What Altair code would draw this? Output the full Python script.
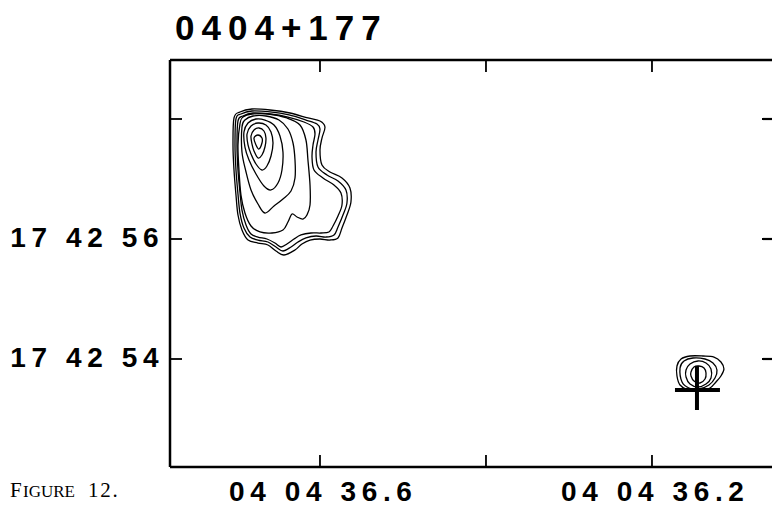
import altair as alt
import pandas as pd

# ---------------- axis values (RA in seconds of 04h04m, Dec in arcsec of +17d42m)
RA_TICKS = [36.6, 36.4, 36.2]
RA_LABELS = [36.6, 36.2]
DEC_TICKS = [58, 56, 54]
DEC_LABELS = [56, 54]
RA_DOMAIN = [36.7807, 36.0554]
DEC_DOMAIN = [52.2, 58.9833]

TITLE = "0404+177"
CAPTION = ["F", "IGURE", "12."]

# ---------------- main source contours (RA s, Dec arcsec), innermost first
MAIN_C1 = [(36.6795, 57.683), (36.6747, 57.733), (36.6699, 57.683), (36.6699, 57.600),
           (36.6735, 57.500), (36.6771, 57.567)]
MAIN_C2 = [(36.6831, 57.717), (36.6795, 57.817), (36.6735, 57.850), (36.6675, 57.800),
           (36.6651, 57.683), (36.6663, 57.533), (36.6699, 57.400), (36.6747, 57.350),
           (36.6795, 57.467), (36.6819, 57.583)]
MAIN_C3 = [(36.6879, 57.750), (36.6831, 57.883), (36.6747, 57.933), (36.6651, 57.900),
           (36.6590, 57.783), (36.6566, 57.600), (36.6590, 57.383), (36.6639, 57.217),
           (36.6699, 57.150), (36.6771, 57.250), (36.6831, 57.417), (36.6867, 57.567)]
MAIN_C4 = [(36.6916, 57.783), (36.6867, 57.933), (36.6771, 58.000), (36.6663, 57.983),
           (36.6554, 57.900), (36.6482, 57.717), (36.6446, 57.450), (36.6458, 57.150),
           (36.6506, 56.933), (36.6590, 56.817), (36.6675, 56.883), (36.6771, 57.083),
           (36.6855, 57.317), (36.6904, 57.533)]
MAIN_C5 = [(36.6940, 57.867), (36.6904, 57.983), (36.6807, 58.050), (36.6651, 58.050),
           (36.6494, 57.983), (36.6386, 57.833), (36.6325, 57.600), (36.6301, 57.317),
           (36.6301, 57.017), (36.6349, 56.800), (36.6446, 56.667), (36.6554, 56.550),
           (36.6663, 56.433), (36.6747, 56.583), (36.6831, 56.817), (36.6891, 57.117),
           (36.6940, 57.450)]
MAIN_C6 = [(36.6964, 57.917), (36.6928, 58.033), (36.6819, 58.083), (36.6627, 58.083),
           (36.6398, 58.017), (36.6241, 57.900), (36.6169, 57.650), (36.6145, 57.317),
           (36.6120, 56.900), (36.6120, 56.567), (36.6157, 56.400), (36.6205, 56.333),
           (36.6277, 56.367), (36.6337, 56.417), (36.6386, 56.283), (36.6446, 56.150),
           (36.6578, 56.100), (36.6723, 56.117), (36.6831, 56.217), (36.6904, 56.433),
           (36.6952, 56.733), (36.6976, 57.150), (36.6988, 57.567)]
MAIN_C7 = [(36.6988, 57.967), (36.6928, 58.050), (36.6807, 58.100), (36.6602, 58.083),
           (36.6386, 58.033), (36.6193, 57.950), (36.6084, 57.867), (36.6060, 57.750),
           (36.6084, 57.567), (36.6096, 57.367), (36.6072, 57.150), (36.5964, 57.017),
           (36.5831, 56.900), (36.5747, 56.767), (36.5735, 56.567), (36.5783, 56.383),
           (36.5843, 56.217), (36.5892, 56.117), (36.5988, 56.100), (36.6108, 56.100),
           (36.6229, 56.067), (36.6313, 56.000), (36.6398, 55.917), (36.6470, 55.867),
           (36.6542, 55.933), (36.6639, 56.000), (36.6747, 56.033), (36.6831, 56.083),
           (36.6891, 56.233), (36.6940, 56.483), (36.6964, 56.783), (36.6988, 57.150),
           (36.7000, 57.567)]
MAIN_C8 = [(36.7012, 58.000), (36.6952, 58.083), (36.6819, 58.133), (36.6602, 58.117),
           (36.6373, 58.067), (36.6169, 57.983), (36.6036, 57.917), (36.6000, 57.833),
           (36.6024, 57.650), (36.6048, 57.450), (36.6024, 57.200), (36.5916, 57.067),
           (36.5783, 56.967), (36.5687, 56.817), (36.5675, 56.600), (36.5723, 56.400),
           (36.5783, 56.200), (36.5831, 56.067), (36.5928, 56.033), (36.6048, 56.050),
           (36.6169, 56.017), (36.6265, 55.950), (36.6349, 55.867), (36.6446, 55.800),
           (36.6530, 55.867), (36.6627, 55.950), (36.6747, 55.983), (36.6843, 56.033),
           (36.6916, 56.183), (36.6964, 56.433), (36.6988, 56.750), (36.7012, 57.150),
           (36.7024, 57.567)]
MAIN_C9 = [(36.7036, 58.017), (36.6964, 58.117), (36.6819, 58.167), (36.6602, 58.150),
           (36.6361, 58.100), (36.6145, 58.017), (36.6000, 57.967), (36.5940, 57.867),
           (36.5976, 57.683), (36.6000, 57.483), (36.5976, 57.233), (36.5880, 57.117),
           (36.5735, 57.017), (36.5639, 56.850), (36.5627, 56.617), (36.5675, 56.400),
           (36.5735, 56.183), (36.5783, 56.017), (36.5880, 55.983), (36.6000, 56.000),
           (36.6120, 55.983), (36.6217, 55.917), (36.6301, 55.817), (36.6434, 55.733),
           (36.6530, 55.800), (36.6627, 55.900), (36.6747, 55.933), (36.6867, 55.983),
           (36.6940, 56.150), (36.6988, 56.400), (36.7012, 56.733), (36.7036, 57.150),
           (36.7048, 57.567)]

# ---------------- secondary (core) source contours
CORE_C1 = [(36.1699, 53.883), (36.1650, 54.000), (36.1542, 54.050), (36.1385, 54.050),
           (36.1253, 54.033), (36.1169, 53.950), (36.1133, 53.833), (36.1169, 53.717),
           (36.1229, 53.617), (36.1301, 53.517), (36.1422, 53.467), (36.1566, 53.483),
           (36.1662, 53.567), (36.1699, 53.717)]
CORE_C2 = [(36.1662, 53.850), (36.1614, 53.967), (36.1506, 54.017), (36.1361, 54.000),
           (36.1265, 53.933), (36.1217, 53.817), (36.1241, 53.683), (36.1313, 53.567),
           (36.1434, 53.500), (36.1554, 53.517), (36.1638, 53.617)]
CORE_C3 = [(36.1590, 53.817), (36.1542, 53.917), (36.1446, 53.967), (36.1349, 53.933),
           (36.1289, 53.833), (36.1289, 53.683), (36.1349, 53.583), (36.1446, 53.533),
           (36.1542, 53.583), (36.1590, 53.700)]
CORE_C4 = [(36.1530, 53.783), (36.1494, 53.867), (36.1434, 53.883), (36.1373, 53.850),
           (36.1349, 53.767), (36.1361, 53.667), (36.1422, 53.600), (36.1494, 53.633),
           (36.1530, 53.717)]

# optical position cross: (ra start, ra end, dec start, dec end)
CROSS_H = (36.1723, 36.1181, 53.483, 53.483)
CROSS_V = (36.1458, 36.1458, 53.883, 53.150)

CONTOURS = [("m1", MAIN_C1), ("m2", MAIN_C2), ("m3", MAIN_C3), ("m4", MAIN_C4),
            ("m5", MAIN_C5), ("m6", MAIN_C6), ("m7", MAIN_C7), ("m8", MAIN_C8),
            ("m9", MAIN_C9), ("c1", CORE_C1), ("c2", CORE_C2), ("c3", CORE_C3),
            ("c4", CORE_C4)]

rows = []
for name, pts in CONTOURS:
    for i, (ra, dec) in enumerate(pts):
        rows.append({"contour": name, "idx": i, "ra": ra, "dec": dec})
cont_df = pd.DataFrame(rows)

cross_df = pd.DataFrame([
    {"ra": CROSS_H[0], "ra2": CROSS_H[1], "dec": CROSS_H[2], "dec2": CROSS_H[3]},
    {"ra": CROSS_V[0], "ra2": CROSS_V[1], "dec": CROSS_V[2], "dec2": CROSS_V[3]},
])

W, H = 602, 407
FONT = "Liberation Sans"
TS = "\u2009"
HS = "\u200a"

xscale = alt.Scale(domain=RA_DOMAIN, nice=False, zero=False)
yscale = alt.Scale(domain=DEC_DOMAIN, nice=False, zero=False)

x_axis = alt.Axis(values=RA_LABELS, title=None, grid=False, ticks=False, tickSize=0,
                  domain=False, labelFont=FONT, labelFontSize=28, labelFontWeight="bold",
                  labelColor="black", labelPadding=11, labelOverlap=False, labelFlush=False,
                  labelLimit=0,
                  labelExpr="join(split('04 04 ' + format(datum.value, '.1f'), ''), '" + TS + "')")
y_axis = alt.Axis(values=DEC_LABELS, title=None, grid=False, ticks=False, tickSize=0,
                  domain=False, labelFont=FONT, labelFontSize=28, labelFontWeight="bold",
                  labelColor="black", labelPadding=12, labelOverlap=False, labelFlush=False,
                  labelBaseline="middle", labelLimit=0,
                  labelExpr="join(split('17 42 ' + format(datum.value, 'd'), ''), '" + TS + "')")

contours = alt.Chart(cont_df).mark_line(
    interpolate="cardinal-closed", color="black", strokeWidth=1.3
).encode(
    x=alt.X("ra:Q", scale=xscale, axis=x_axis),
    y=alt.Y("dec:Q", scale=yscale, axis=y_axis),
    detail="contour:N",
    order="idx:Q",
)

cross = alt.Chart(cross_df).mark_rule(color="black", strokeWidth=4).encode(
    x="ra:Q", x2="ra2:Q", y="dec:Q", y2="dec2:Q"
)

xt_df = pd.DataFrame({"ra": RA_TICKS})
yt_df = pd.DataFrame({"dec": DEC_TICKS})
one = pd.DataFrame({"a": [0]})

tick_top = alt.Chart(xt_df).mark_rule(color="black", strokeWidth=1.8).encode(
    x="ra:Q", y=alt.value(0), y2=alt.value(12))
tick_bot = alt.Chart(xt_df).mark_rule(color="black", strokeWidth=1.8).encode(
    x="ra:Q", y=alt.value(H), y2=alt.value(H - 12))
tick_left = alt.Chart(yt_df).mark_rule(color="black", strokeWidth=1.8).encode(
    y="dec:Q", x=alt.value(0), x2=alt.value(12))
tick_right = alt.Chart(yt_df).mark_rule(color="black", strokeWidth=2.2).encode(
    y="dec:Q", x=alt.value(W - 10), x2=alt.value(W))

frame_top = alt.Chart(one).mark_rule(color="black", strokeWidth=2.5).encode(
    x=alt.value(0), x2=alt.value(W), y=alt.value(0))
frame_bot = alt.Chart(one).mark_rule(color="black", strokeWidth=2.5).encode(
    x=alt.value(0), x2=alt.value(W), y=alt.value(H))
frame_left = alt.Chart(one).mark_rule(color="black", strokeWidth=2.5).encode(
    x=alt.value(0), y=alt.value(0), y2=alt.value(H))

title_df = pd.DataFrame({"t": [TS.join(TITLE)]})
title = alt.Chart(title_df).mark_text(
    font=FONT, fontSize=35, fontWeight="bold", align="left", baseline="alphabetic", color="black"
).encode(text="t:N", x=alt.value(5), y=alt.value(-20))

cap_f = alt.Chart(pd.DataFrame({"t": [CAPTION[0]]})).mark_text(
    font="Liberation Serif", fontSize=21, align="left", baseline="alphabetic", color="black"
).encode(text="t:N", x=alt.value(-160), y=alt.value(437))
cap_i = alt.Chart(pd.DataFrame({"t": [CAPTION[1]]})).mark_text(
    font="Liberation Serif", fontSize=17, align="left", baseline="alphabetic", color="black"
).encode(text="t:N", x=alt.value(-147), y=alt.value(437))
cap_n = alt.Chart(pd.DataFrame({"t": [HS.join(CAPTION[2])]})).mark_text(
    font="Liberation Serif", fontSize=21, align="left", baseline="alphabetic", color="black"
).encode(text="t:N", x=alt.value(-82), y=alt.value(437))

chart = alt.layer(
    contours, cross, tick_top, tick_bot, tick_left, tick_right,
    frame_top, frame_bot, frame_left, title, cap_f, cap_i, cap_n
).properties(
    width=W, height=H,
    autosize=alt.AutoSizeParams(type="none"),
    padding={"left": 170, "top": 60, "right": 0, "bottom": 43},
    background="white",
).configure_view(stroke=None)

chart.save("out.html", embed_options={"renderer": "svg", "actions": False})
